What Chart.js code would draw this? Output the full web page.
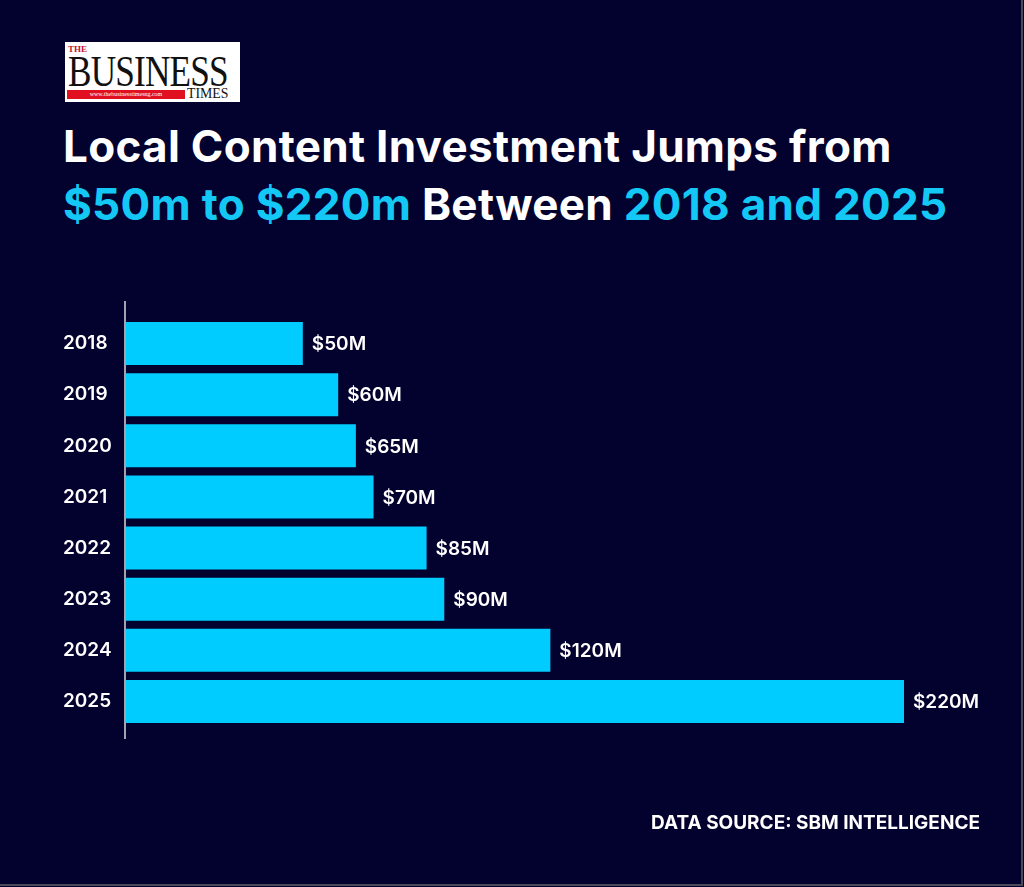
<!DOCTYPE html>
<html>
<head>
<meta charset="utf-8">
<script src="https://cdn.jsdelivr.net/npm/chart.js@4/dist/chart.umd.min.js"></script>
<style>
  html, body { margin:0; padding:0; }
  body { width:1024px; height:887px; background:#03012e; position:relative; overflow:hidden; font-family: Inter, "Open Sans", sans-serif; }
  #logo { position:absolute; left:65px; top:42px; width:175px; height:60px; background:#fff; overflow:hidden; }
  #logo .the { position:absolute; left:3px; top:2px; font:bold 9px "Liberation Serif", serif; color:#c8102e; }
  #logo .biz { position:absolute; left:3px; top:8px; font:44px "Liberation Serif", "DejaVu Serif", serif; color:#111; transform-origin:0 0; transform:scaleX(0.80); letter-spacing:-1px; line-height:44px; white-space:nowrap; }
  #logo .bar { position:absolute; left:2px; top:48px; width:118px; height:9px; background:#e01020; color:#fff; font:6px "Liberation Serif", serif; line-height:9px; text-align:center; white-space:nowrap; }
  #logo .times { position:absolute; left:122px; top:44px; font:15px "Liberation Serif", serif; color:#111; line-height:15px; transform-origin:0 0; transform:scaleX(0.92); white-space:nowrap; }
  #title { position:absolute; left:63px; top:117px; font-weight:700; font-size:44px; line-height:58px; color:#fff; letter-spacing:0.3px; white-space:nowrap; }
  #title .hl { color:#14c8f5; }
  #source { position:absolute; right:44px; top:811px; font-weight:700; font-size:19px; color:#fff; letter-spacing:0px; white-space:nowrap; }
  #edge { position:absolute; left:0; top:0; width:1021px; height:884px; border-right:2px solid #4a4a58; border-bottom:2px solid #4a4a58; pointer-events:none; }
  #chart { position:absolute; left:0; top:0; }
</style>
</head>
<body>
<div id="logo">
  <div class="biz">BUSINESS</div>
  <div class="the">THE</div>
  <div class="bar">www.thebusinesstimesng.com</div>
  <div class="times">TIMES</div>
</div>
<div id="title">Local Content Investment Jumps from<br><span class="hl">$50m to $220m</span> Between <span class="hl">2018 and 2025</span></div>
<canvas id="chart" width="1024" height="887"></canvas>
<div id="source">DATA SOURCE: SBM INTELLIGENCE</div>
<div id="edge"></div>
<script>
const years = ["2018","2019","2020","2021","2022","2023","2024","2025"];
const investmentM = [50, 60, 65, 70, 85, 90, 120, 220];
const valueLabels = ["$50M","$60M","$65M","$70M","$85M","$90M","$120M","$220M"];

const barColor = "#00ccff";

const extras = {
  id: "extras",
  afterDatasetsDraw(chart) {
    const ctx = chart.ctx;
    const meta = chart.getDatasetMeta(0);
    ctx.save();
    ctx.fillStyle = "#ffffff";
    ctx.font = "600 19px Inter, 'Open Sans', sans-serif";
    ctx.textAlign = "left";
    ctx.textBaseline = "middle";
    meta.data.forEach((bar, i) => {
      ctx.fillText(valueLabels[i], bar.x + 9, bar.y + 1);
    });
    const a = chart.chartArea;
    ctx.strokeStyle = "#d8d8e0";
    ctx.lineWidth = 1.5;
    ctx.beginPath();
    ctx.moveTo(a.left - 1, a.top - 17);
    ctx.lineTo(a.left - 1, a.bottom + 12);
    ctx.stroke();
    ctx.restore();
  }
};

new Chart(document.getElementById("chart"), {
  type: "bar",
  data: {
    labels: years,
    datasets: [{
      data: investmentM,
      backgroundColor: barColor,
      borderWidth: 0,
      barPercentage: 0.84,
      categoryPercentage: 1.0
    }]
  },
  options: {
    indexAxis: "y",
    responsive: false,
    animation: false,
    devicePixelRatio: 1,
    layout: { padding: { left: 63, right: 120, top: 318, bottom: 160 } },
    plugins: { legend: { display: false }, tooltip: { enabled: false } },
    scales: {
      x: { display: false, min: 0, max: 220 },
      y: {
        grid: { display: false, drawTicks: false },
        border: { display: false },
        ticks: {
          color: "#ffffff",
          crossAlign: "far",
          padding: 0,
          font: { family: "Inter, 'Open Sans', sans-serif", size: 19, weight: "600" }
        },
        afterFit(scale) { scale.width = 63; }
      }
    }
  },
  plugins: [extras]
});
</script>
</body>
</html>
